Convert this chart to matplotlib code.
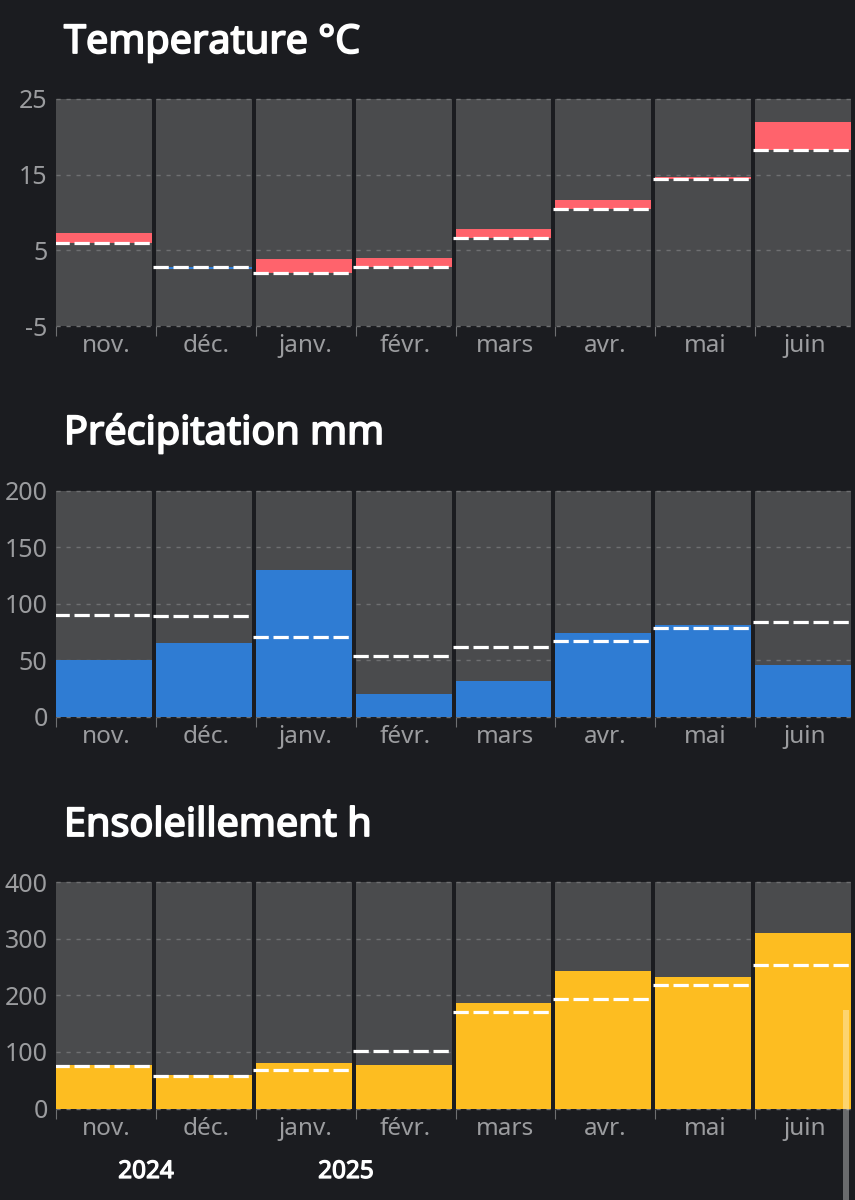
import numpy as np
import matplotlib
matplotlib.use('Agg')
import matplotlib.pyplot as plt
import matplotlib.patheffects as pe
from matplotlib.patches import Rectangle

plt.rcParams['font.family'] = ['Noto Sans', 'DejaVu Sans']
plt.rcParams['lines.scale_dashes'] = False

months = ['nov.', 'déc.', 'janv.', 'févr.', 'mars', 'avr.', 'mai', 'juin']

temp_measured = [7.3, 2.55, 3.85, 4.0, 7.8, 11.6, 14.7, 21.9]
temp_normal = [5.95, 2.8, 2.0, 2.8, 6.6, 10.4, 14.4, 18.3]
temp_ticks = [-5, 5, 15, 25]

rain_measured = [50, 65, 130, 20, 32, 74, 81, 46]
rain_normal = [90, 89, 71, 54, 62, 67, 79, 84]
rain_ticks = [0, 50, 100, 150, 200]

sun_measured = [76, 60, 81, 76, 186, 242, 232, 310]
sun_normal = [75, 57, 68, 102, 170, 194, 218, 253]
sun_ticks = [0, 100, 200, 300, 400]

BG = '#1b1c20'
PANEL = '#4a4b4d'
GRID = '#6e6f71'
LABEL = '#9b9c9f'
RED = '#ff636c'
BLUE = '#2f7cd3'
YELLOW = '#fdbd21'

W, H = 855, 1200
fig = plt.figure(figsize=(W / 100, H / 100), dpi=100, facecolor=BG)

# the installed Noto Sans gives no bold face here, so thicken it with a stroke
BOLD = [pe.withStroke(linewidth=1.3, foreground='white')]


def make_axes(top, bottom):
    # pixel box to figure fraction, 8 columns of ~100 px from x=56
    ax = fig.add_axes([56 / W, 1 - bottom / H, 799 / W, (bottom - top) / H])
    ax.set_facecolor('none')
    for s in ax.spines.values():
        s.set_visible(False)
    ax.set_xlim(0, 8)
    return ax


def style(ax, ticks, title, title_y):
    x = np.arange(len(months))
    lo, hi = ticks[0], ticks[-1]
    ax.set_ylim(lo, hi)
    ax.bar(x + 0.48, [hi - lo] * len(x), bottom=lo, width=0.96, color=PANEL, zorder=1)
    ax.hlines(ticks, 0, 7.96, color=GRID, lw=1.0, linestyle=(0, (3, 4.2)), zorder=2, clip_on=False)
    ax.set_yticks(ticks)
    ax.set_yticklabels([str(t) for t in ticks], fontsize=18, color=LABEL)
    ax.tick_params(axis='y', length=0, pad=6)
    ax.set_xticks(x)
    ax.set_xticklabels([])
    ax.tick_params(axis='x', length=7, width=0.8, color=GRID)
    for i, m in enumerate(months):
        ax.annotate(m, (i + 0.5, 0), xycoords=('data', 'axes fraction'), xytext=(0, -6),
                    textcoords='offset points', ha='center', va='top', fontsize=17.5, color=LABEL)
    fig.text(64 / W, 1 - title_y / H, title, fontsize=28.5, fontweight='bold', color='white',
             ha='left', va='baseline', path_effects=BOLD)


def normals(ax, values):
    x = np.arange(len(values))
    ax.hlines(values, x - 0.025, x + 0.95, color='white', lw=2.3,
              linestyle=(0, (11, 3.4)), zorder=5, capstyle='butt')


ax1 = make_axes(99, 326)
style(ax1, temp_ticks, 'Temperature °C', 53)
m = np.array(temp_measured)
n = np.array(temp_normal)
ax1.bar(np.arange(8) + 0.48, m - n, bottom=n, width=0.96,
        color=[RED if d >= 0 else BLUE for d in m - n], zorder=3)
normals(ax1, temp_normal)

ax2 = make_axes(490.5, 717)
style(ax2, rain_ticks, 'Précipitation mm', 444)
ax2.bar(np.arange(8) + 0.48, rain_measured, width=0.96, color=BLUE, zorder=3)
normals(ax2, rain_normal)

ax3 = make_axes(882, 1108.5)
style(ax3, sun_ticks, 'Ensoleillement h', 836)
ax3.bar(np.arange(8) + 0.48, sun_measured, width=0.96, color=YELLOW, zorder=3)
normals(ax3, sun_normal)

for label, px in [('2024', 146), ('2025', 346)]:
    fig.text(px / W, 1 - 1178 / H, label, fontsize=17.5, fontweight='bold', color='white',
             ha='center', va='baseline', path_effects=[pe.withStroke(linewidth=0.9, foreground='white')])

# scroll indicator from the phone screenshot
fig.add_artist(Rectangle((843 / W, 0), 6 / W, 190 / H, transform=fig.transFigure,
                         facecolor='white', alpha=0.35, edgecolor='none', zorder=10))

fig.savefig('out.png', dpi=100, facecolor=BG)
